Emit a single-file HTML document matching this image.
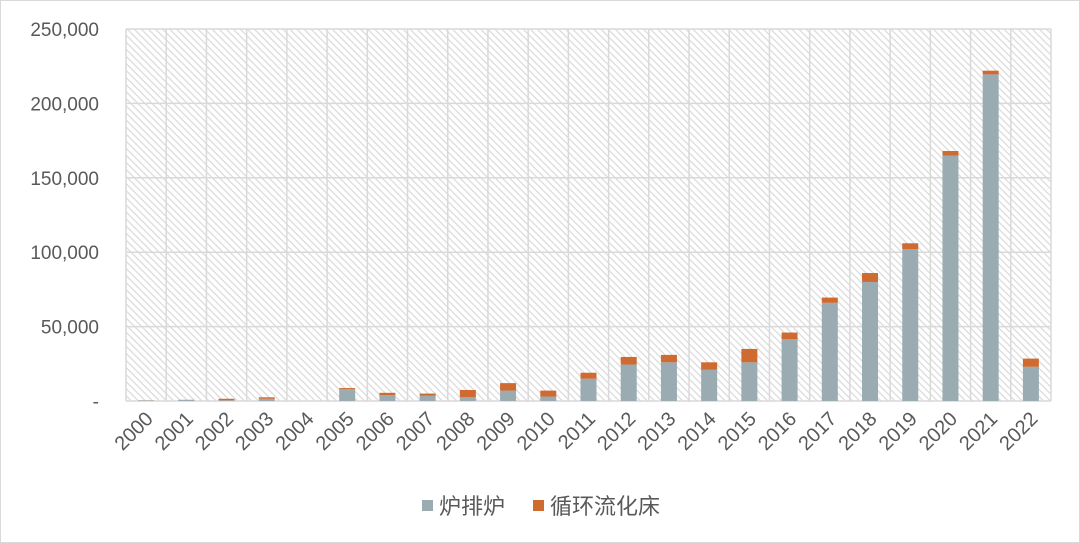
<!DOCTYPE html>
<html><head><meta charset="utf-8"><style>
html,body{margin:0;padding:0;background:#fff}
svg{display:block}
text{font-family:"Liberation Sans","Noto Sans CJK SC",sans-serif;fill:#595959}
</style></head><body>
<svg id="c" width="1080" height="543" viewBox="0 0 1080 543" xmlns="http://www.w3.org/2000/svg">
<defs><pattern id="h" width="5" height="5" patternUnits="userSpaceOnUse" patternTransform="rotate(45)">
<rect width="5" height="5" fill="#fff"/><rect width="5" height="1.3" fill="#dcdcdc"/></pattern></defs>
<rect x="0.5" y="0.5" width="1079" height="542" fill="#fff" stroke="#d9d9d9"/>
<rect x="126" y="29" width="925" height="372" fill="url(#h)"/>
<g id="g"></g>
</svg>
<script>
var g=document.getElementById('g'),NS='http://www.w3.org/2000/svg';
function el(t,a,tx){var e=document.createElementNS(NS,t);for(var k in a)e.setAttribute(k,a[k]);if(tx)e.textContent=tx;g.appendChild(e);return e;}
var L=126,R=1051,T=29,B=401,n=23,w=(R-L)/n;
function Y(v){return B-v/250000*(B-T);}
for(var i=0;i<=5;i++){var y=Y(i*50000);el('line',{x1:L,x2:R,y1:y,y2:y,stroke:'#d9d9d9','stroke-width':1.5});
el('text',{x:99,y:y+7,'text-anchor':'end','font-size':19},i?(i*50000).toLocaleString('en-US'):'-');}
for(var i=0;i<=n;i++){var x=L+i*w;el('line',{x1:x,x2:x,y1:T,y2:B,stroke:'#d9d9d9','stroke-width':1.5});}
var gr=[300,700,500,1500,0,8000,4000,3500,2500,7000,3000,15000,24500,26000,21000,26000,41500,66000,80000,102000,165000,219500,23000];
var tot=[400,800,1500,2500,0,8700,5500,5000,7400,12000,7000,19000,29600,31000,26000,35000,46000,69500,86000,106000,168000,222000,28500];
for(var i=0;i<n;i++){var cx=L+(i+0.5)*w,bw=16;
if(gr[i]>0)el('rect',{x:cx-bw/2,y:Y(gr[i]),width:bw,height:B-Y(gr[i]),fill:'#9aabb1'});
if(tot[i]>gr[i])el('rect',{x:cx-bw/2,y:Y(tot[i]),width:bw,height:Y(gr[i])-Y(tot[i]),fill:'#cf6a30'});
el('text',{x:cx+8,y:420,'text-anchor':'end','font-size':20,transform:'rotate(-45 '+(cx+8)+' 420)'},String(2000+i));}
el('rect',{x:422,y:500,width:11,height:11,fill:'#9aabb1'});
el('text',{x:439,y:514,'font-size':22},'炉排炉');
el('rect',{x:533,y:500,width:11,height:11,fill:'#cf6a30'});
el('text',{x:550,y:514,'font-size':22},'循环流化床');
</script>
</body></html>
